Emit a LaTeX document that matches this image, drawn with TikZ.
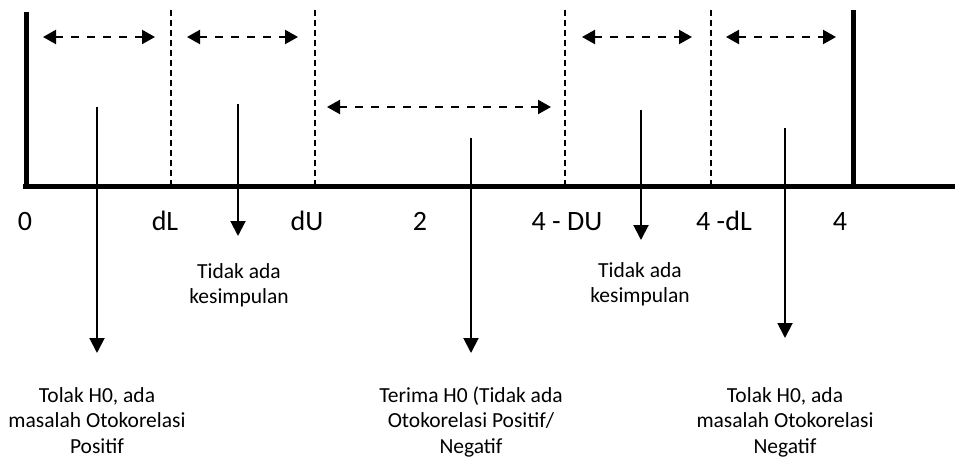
\documentclass[tikz,border=0pt]{standalone}
\usepackage{fontspec}
\setmainfont{Carlito}
\usetikzlibrary{arrows.meta}
\tikzset{
  thickline/.style={line width=5pt},
  divider/.style={line width=1.3pt, dash pattern=on 6pt off 4pt},
  spanarrow/.style={line width=2.2pt, dash pattern=on 8pt off 8pt, {Triangle[length=13pt,width=14pt]}-{Triangle[length=13pt,width=14pt]}},
  pointer/.style={line width=2pt, -{Triangle[length=15pt,width=15pt]}},
  axislabel/.style={anchor=base, inner sep=0pt, font=\fontsize{28}{32}\selectfont},
  note/.style={anchor=base, inner sep=0pt, font=\fontsize{21.5}{25.5}\selectfont}
}
\newcommand{\stack}[1]{\begin{tabular}[t]{@{}c@{}}#1\end{tabular}}
\begin{document}
\begin{tikzpicture}[x=1pt,y=-1pt]
\useasboundingbox (0,0) rectangle (960,457);
% axis and frame
\coordinate (axL) at (23,186);
\coordinate (axR) at (955,186);
\coordinate (leftTop) at (26,12);
\coordinate (leftBot) at (26,186);
\coordinate (rightTop) at (853,10);
\coordinate (rightBot) at (853,186);
\draw[thickline] (axL) -- (axR);
\draw[thickline] (leftTop) -- (leftBot);
\draw[thickline] (rightTop) -- (rightBot);
% dividers
\foreach \n/\x in {dl/171, du/315, fdu/565, fdl/711}{
  \coordinate (\n top) at (\x,10);
  \coordinate (\n bot) at (\x,186);
  \draw[divider] (\n top) -- (\n bot);
}
% ranges
\coordinate (r1a) at (43,37);  \coordinate (r1b) at (155,37);
\coordinate (r2a) at (187,37); \coordinate (r2b) at (298,37);
\coordinate (r3a) at (327,107); \coordinate (r3b) at (551,107);
\coordinate (r4a) at (582,37); \coordinate (r4b) at (692,37);
\coordinate (r5a) at (726,37); \coordinate (r5b) at (836,37);
\draw[spanarrow] (r1a) -- (r1b);
\draw[spanarrow] (r2a) -- (r2b);
\draw[spanarrow] (r3a) -- (r3b);
\draw[spanarrow] (r4a) -- (r4b);
\draw[spanarrow] (r5a) -- (r5b);
% axis labels
\node[axislabel] (l0) at (25,230) {0};
\node[axislabel] (ldl) at (165,230) {dL};
\node[axislabel] (ldu) at (307,230) {dU};
\node[axislabel] (l2) at (420,230) {2};
\node[axislabel] (lfdu) at (567,230) {4 - DU};
\node[axislabel] (lfdl) at (724,230) {4 -dL};
\node[axislabel] (l4) at (840,230) {4};
% notes
\node[note] (n1) at (97,402) {\stack{Tolak H0, ada\\masalah Otokorelasi\\Positif}};
\node[note] (n2) at (239,278) {\stack{Tidak ada\\kesimpulan}};
\node[note] (n3) at (471,402) {\stack{Terima H0 (Tidak ada\\Otokorelasi Positif/\\Negatif}};
\node[note] (n4) at (640,277) {\stack{Tidak ada\\kesimpulan}};
\node[note] (n5) at (785,402) {\stack{Tolak H0, ada\\masalah Otokorelasi\\Negatif}};
% pointers
\coordinate (p1s) at (97,107);  \coordinate (p1e) at (97,353);
\coordinate (p2s) at (238,104); \coordinate (p2e) at (238,236);
\coordinate (p3s) at (471,138); \coordinate (p3e) at (471,353);
\coordinate (p4s) at (641,110); \coordinate (p4e) at (641,240);
\coordinate (p5s) at (785,128); \coordinate (p5e) at (785,338);
\draw[pointer] (p1s) -- (p1e);
\draw[pointer] (p2s) -- (p2e);
\draw[pointer] (p3s) -- (p3e);
\draw[pointer] (p4s) -- (p4e);
\draw[pointer] (p5s) -- (p5e);
\end{tikzpicture}
\end{document}
